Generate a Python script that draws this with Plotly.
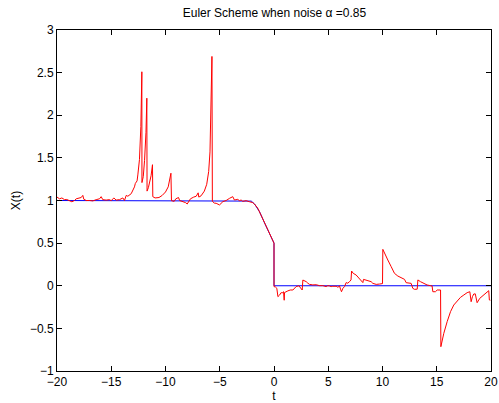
import plotly.graph_objects as go

# Exact (deterministic) solution
t_exact = [-20, -2.4, -2.1, -1.8, -1.34, -0.88, -0.41, -0.11, 0.0, 0.0, 20]
x_exact = [1.0, 1.0, 0.993, 0.96, 0.87, 0.74, 0.62, 0.53, 0.5, 0.0, 0.0]

# Euler scheme path
t_euler = [
    -20.0, -19.77, -19.55, -19.31, -19.1, -18.85, -18.63, -18.39, -18.23, -17.77,
    -17.62, -17.53, -17.31, -17.0, -16.70, -16.39, -16.08, -15.93, -15.78, -15.47,
    -15.16, -15.01, -14.76, -14.55, -14.24, -13.93, -13.78, -13.62, -13.47, -13.16,
    -12.95, -12.86, -12.78, -12.70, -12.62, -12.55, -12.40, -12.27, -12.18, -12.17,
    -12.05, -11.93, -11.80, -11.72, -11.70, -11.58, -11.45, -11.33, -11.20, -11.17,
    -10.96, -10.6, -10.3, -10.0, -9.75, -9.6, -9.50, -9.45, -9.2, -9.05,
    -8.8, -8.7, -8.45, -8.15, -8.0, -7.85, -7.7, -7.4, -7.17, -6.99,
    -6.93, -6.72, -6.42, -6.2, -6.02, -5.9, -5.8, -5.72, -5.68, -5.5,
    -5.33, -5.02, -4.71, -4.41, -4.09, -3.80, -3.65, -3.34, -3.19, -3.03,
    -2.88, -2.57, -2.27, -1.96, -1.81, -1.5, -1.2, -0.9, -0.6, -0.3,
    -0.1, 0.0, 0.0, 0.14, 0.26, 0.36, 0.51, 0.66, 0.75, 0.88,
    0.94, 0.97, 1.28, 1.5, 1.74, 1.9, 2.04, 2.29, 2.40, 2.5,
    2.60, 2.66, 2.82, 2.97, 3.12, 3.27, 3.58, 3.89, 4.2, 4.50,
    4.8, 4.97, 5.12, 5.27, 5.42, 5.73, 5.89, 6.04, 6.13, 6.22,
    6.35, 6.50, 6.65, 6.80, 6.96, 7.1, 7.15, 7.3, 7.57, 7.73,
    7.88, 8.04, 8.19, 8.25, 8.49, 8.80, 8.95, 9.11, 9.42, 9.72,
    9.88, 10.0, 10.03, 10.18, 10.49, 10.8, 11.1, 11.41, 11.72, 12.03,
    12.18, 12.4, 12.64, 12.79, 12.95, 13.2, 13.26, 13.5, 13.81, 14.11,
    14.42, 14.57, 14.64, 14.88, 15.04, 15.35, 15.38, 15.65, 15.96, 16.27,
    16.57, 16.88, 17.19, 17.50, 17.80, 18.05, 18.17, 18.29, 18.41, 18.55,
    18.72, 18.96, 19.33, 19.79, 19.85, 19.94,
]
x_euler = [
    1.04, 1.02, 1.03, 1.01, 1.012, 1.0, 0.985, 1.0, 1.02, 1.035,
    1.06, 1.015, 1.0, 1.0, 0.995, 1.01, 1.02, 1.045, 1.01, 1.005,
    1.01, 0.998, 1.03, 1.005, 1.01, 1.03, 1.0, 1.06, 1.05, 1.08,
    1.13, 1.16, 1.2, 1.22, 1.23, 1.30, 1.48, 1.87, 2.51, 1.21,
    1.28, 1.47, 1.80, 2.20, 1.11, 1.15, 1.21, 1.29, 1.42, 1.045,
    1.03, 1.035, 1.06, 1.10, 1.16, 1.24, 1.32, 0.998, 0.99, 1.02,
    1.035, 1.0, 0.99, 0.975, 0.959, 0.985, 1.02, 1.04, 1.05, 1.09,
    1.04, 1.055, 1.11, 1.19, 1.34, 1.57, 2.05, 2.69, 0.99, 0.97,
    0.967, 0.948, 0.987, 1.0, 1.026, 1.045, 1.006, 1.013, 0.998, 1.006,
    0.99, 0.998, 0.986, 0.975, 0.96, 0.91, 0.83, 0.75, 0.66, 0.57,
    0.52, 0.5, -0.01, -0.015, -0.03, -0.128, -0.11, -0.08, -0.085, -0.07,
    -0.17, -0.08, -0.06, -0.05, -0.05, -0.03, -0.01, 0.0, -0.02, -0.03,
    -0.05, 0.067, 0.06, 0.048, 0.03, 0.016, 0.01, 0.012, 0.001, 0.001,
    -0.01, 0.001, -0.003, -0.01, -0.006, -0.006, -0.018, -0.002, -0.04, -0.07,
    -0.03, -0.01, 0.037, 0.03, 0.048, 0.068, 0.173, 0.146, 0.126, 0.1,
    0.075, 0.048, 0.037, 0.075, 0.068, 0.06, 0.048, 0.028, 0.016, 0.02,
    0.02, 0.025, 0.427, 0.38, 0.302, 0.224, 0.146, 0.114, 0.099, 0.075,
    0.036, 0.03, 0.028, -0.03, -0.042, -0.04, 0.068, 0.048, 0.028, 0.009,
    0.001, -0.002, -0.07, -0.07, -0.05, -0.05, -0.715, -0.558, -0.421, -0.304,
    -0.226, -0.175, -0.136, -0.108, -0.081, -0.07, -0.187, -0.128, -0.097, -0.095,
    -0.199, -0.148, -0.108, -0.058, -0.167, -0.17,
]

fig = go.Figure()
fig.add_trace(go.Scatter(x=t_exact, y=x_exact, mode="lines",
                         line=dict(color="#0000ff", width=1), name="Exact"))
fig.add_trace(go.Scatter(x=t_euler, y=x_euler, mode="lines",
                         line=dict(color="#ff0000", width=1), name="Euler"))

axis_common = dict(
    showgrid=False, zeroline=False, showline=True, linecolor="black",
    linewidth=1, mirror="ticks", ticks="inside", ticklen=5, tickcolor="black",
    automargin=False,
    tickfont=dict(family="Liberation Sans, Arial, sans-serif", size=12, color="black"),
)

fig.update_layout(
    width=499, height=403,
    margin=dict(l=57, r=8, t=30, b=32),
    paper_bgcolor="white", plot_bgcolor="white",
    showlegend=False,
    font=dict(family="Liberation Sans, Arial, sans-serif", size=12, color="black"),
    title=dict(text="Euler Scheme when noise α =0.85", x=0.55, xanchor="center",
               y=1 - 13 / 403, yanchor="middle", yref="container",
               font=dict(size=12, color="black")),
    xaxis=dict(range=[-20, 20], dtick=5, tick0=-20,
               title=dict(text="t", standoff=3, font=dict(size=12)), **axis_common),
    yaxis=dict(range=[-1, 3], dtick=0.5, tick0=-1,
               title=dict(text="X(t)", standoff=6, font=dict(size=12)), **axis_common),
)

fig.write_html("out.html")
